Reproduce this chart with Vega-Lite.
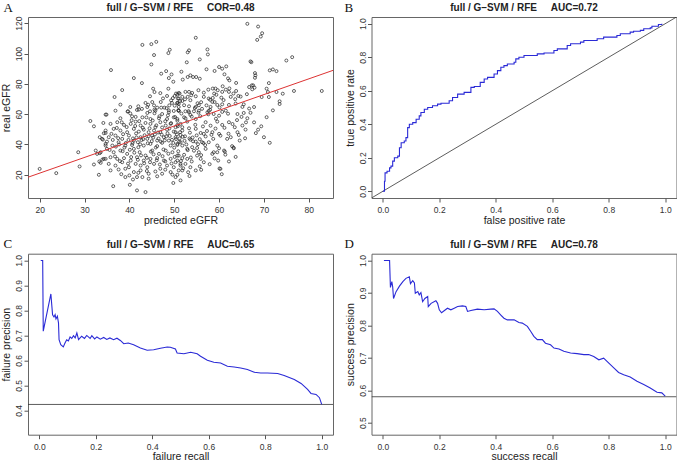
{
"$schema": "https://vega.github.io/schema/vega-lite/v6.json",
"padding": {"left": 1, "top": 1, "right": 0, "bottom": 0},
"background": "white",
"config": {
  "view": {"stroke": "#666", "strokeWidth": 1},
  "axis": {"grid": false, "domain": false, "tickColor": "#555", "tickSize": 4, "tickCount": 20, "labelFont": "Liberation Sans", "labelFontSize": 8.5, "labelColor": "#333", "labelFlush": false, "labelOverlap": false, "titleFont": "Liberation Sans", "titleFontSize": 10.5, "titleFontWeight": "normal", "titleColor": "#222"},
  "axisY": {"labelAngle": 270, "labelAlign": "center", "labelBaseline": "alphabetic", "labelPadding": 2.5, "titleAngle": 270, "titleX": -21.3, "titleBaseline": "middle", "titleAlign": "center"},
  "axisX": {"labelPadding": 3.5, "labelBaseline": "top", "titleY": 25, "titleBaseline": "alphabetic"},
  "title": {"font": "Liberation Sans", "fontSize": 10, "fontWeight": "bold", "color": "#222", "offset": 6.5, "dy": 17.8, "baseline": "alphabetic", "anchor": "middle", "frame": "group"}
},
"datasets": {
  "scatter": [
{"p":42.9,"r":105.7},{"p":44.9,"r":106.2},{"p":46.0,"r":107.7},{"p":49.0,"r":102.5},{"p":48.7,"r":100.3},{"p":45.5,"r":99.0},{"p":35.9,"r":89.1},{"p":44.9,"r":92.8},{"p":41.0,"r":83.8},{"p":42.8,"r":80.5},{"p":47.1,"r":86.7},{"p":48.2,"r":88.4},{"p":49.4,"r":86.2},{"p":48.8,"r":83.8},{"p":49.8,"r":81.4},{"p":38.4,"r":75.9},{"p":45.3,"r":76.8},{"p":45.6,"r":74.6},{"p":46.9,"r":73.9},{"p":48.7,"r":76.8},{"p":36.7,"r":71.3},{"p":44.6,"r":71.8},{"p":47.5,"r":70.4},{"p":48.4,"r":72.0},{"p":50.1,"r":72.0},{"p":50.7,"r":73.0},{"p":51.0,"r":74.0},{"p":50.8,"r":70.4},{"p":49.3,"r":69.1},{"p":38.0,"r":66.3},{"p":40.2,"r":64.7},{"p":42.0,"r":65.2},{"p":43.6,"r":67.4},{"p":44.0,"r":64.7},{"p":45.1,"r":68.0},{"p":45.5,"r":65.8},{"p":46.2,"r":64.3},{"p":47.1,"r":64.3},{"p":47.8,"r":64.3},{"p":48.9,"r":65.8},{"p":49.5,"r":67.4},{"p":50.1,"r":65.6},{"p":50.7,"r":67.4},{"p":51.3,"r":68.7},{"p":39.7,"r":61.9},{"p":42.1,"r":63.0},{"p":44.6,"r":61.9},{"p":45.6,"r":63.0},{"p":48.8,"r":62.5},{"p":49.9,"r":62.1},{"p":50.9,"r":62.5},
{"p":66.3,"r":119.6},{"p":54.8,"r":110.4},{"p":53.3,"r":102.1},{"p":53.0,"r":100.8},{"p":57.4,"r":102.7},{"p":57.5,"r":99.4},{"p":55.7,"r":96.1},{"p":52.8,"r":94.2},{"p":67.0,"r":94.8},{"p":57.2,"r":89.6},{"p":59.0,"r":88.5},{"p":60.0,"r":91.1},{"p":60.7,"r":90.0},{"p":61.6,"r":91.5},{"p":51.6,"r":88.0},{"p":53.6,"r":85.6},{"p":53.0,"r":84.5},{"p":54.2,"r":84.5},{"p":54.9,"r":84.5},{"p":55.7,"r":83.4},{"p":51.9,"r":82.8},{"p":61.2,"r":86.3},{"p":62.0,"r":83.6},{"p":62.3,"r":82.3},{"p":63.8,"r":80.6},{"p":58.6,"r":76.9},{"p":59.2,"r":76.9},{"p":59.7,"r":75.8},{"p":57.6,"r":76.2},{"p":55.4,"r":75.8},{"p":50.4,"r":73.6},{"p":51.2,"r":73.6},{"p":52.5,"r":74.7},{"p":53.3,"r":74.7},{"p":54.0,"r":74.0},{"p":51.8,"r":71.4},{"p":53.0,"r":71.4},{"p":51.0,"r":70.3},{"p":54.8,"r":71.8},{"p":56.6,"r":71.4},{"p":58.9,"r":73.6},{"p":60.7,"r":74.7},{"p":61.5,"r":76.2},{"p":62.2,"r":74.7},{"p":63.2,"r":73.6},{"p":63.8,"r":75.3},{"p":64.3,"r":72.0},{"p":62.6,"r":71.4},{"p":60.5,"r":70.9},{"p":58.6,"r":70.7},{"p":57.7,"r":70.3},{"p":53.6,"r":69.2},{"p":51.8,"r":68.7},{"p":50.7,"r":67.4},{"p":56.0,"r":67.9},{"p":58.5,"r":68.1},{"p":55.5,"r":65.9},{"p":54.8,"r":64.8},{"p":53.3,"r":65.2},{"p":52.2,"r":65.9},{"p":51.0,"r":64.8},{"p":58.1,"r":64.8},{"p":59.6,"r":66.1},{"p":60.7,"r":66.5},{"p":62.2,"r":66.1},{"p":63.7,"r":67.0},{"p":65.5,"r":66.5},{"p":66.7,"r":63.7},{"p":52.5,"r":61.9},{"p":54.4,"r":61.9},{"p":57.7,"r":62.2},{"p":60.7,"r":61.5},{"p":65.2,"r":64.8},{"p":66.7,"r":77.9},{"p":67.6,"r":79.0},
{"p":68.7,"r":117.8},{"p":69.6,"r":113.4},{"p":69.3,"r":111.2},{"p":68.5,"r":109.0},{"p":76.3,"r":97.6},{"p":75.0,"r":95.4},{"p":67.2,"r":94.3},{"p":68.0,"r":87.1},{"p":68.1,"r":85.6},{"p":68.0,"r":84.0},{"p":71.3,"r":88.9},{"p":72.0,"r":89.5},{"p":72.8,"r":88.4},{"p":71.1,"r":80.5},{"p":67.3,"r":79.0},{"p":67.9,"r":77.5},{"p":67.4,"r":76.4},{"p":70.6,"r":76.8},{"p":70.9,"r":74.6},{"p":72.8,"r":74.6},{"p":74.2,"r":73.5},{"p":76.7,"r":75.3},{"p":82.9,"r":75.3},{"p":69.5,"r":71.3},{"p":71.1,"r":71.3},{"p":73.5,"r":68.5},{"p":67.8,"r":64.7},
{"p":34.7,"r":59.7},{"p":31.3,"r":55.5},{"p":32.1,"r":52.0},{"p":34.3,"r":47.4},{"p":34.7,"r":47.6},{"p":33.4,"r":44.8},{"p":34.1,"r":43.2},{"p":34.7,"r":39.3},{"p":28.6,"r":34.9},{"p":32.5,"r":36.0},{"p":32.8,"r":33.8},{"p":33.4,"r":34.3},{"p":34.0,"r":30.1},{"p":34.7,"r":30.5},{"p":33.3,"r":28.8},{"p":33.6,"r":27.9},{"p":28.9,"r":25.5},{"p":32.1,"r":26.8},{"p":20.0,"r":23.9},{"p":23.7,"r":21.1},{"p":33.2,"r":20.0},
{"p":34.9,"r":59.7},{"p":36.9,"r":62.3},{"p":39.6,"r":61.7},{"p":41.7,"r":62.8},{"p":44.0,"r":60.8},{"p":45.8,"r":62.3},{"p":47.3,"r":60.1},{"p":48.8,"r":61.2},{"p":49.9,"r":57.9},{"p":51.0,"r":62.3},{"p":38.0,"r":57.3},{"p":40.6,"r":58.6},{"p":42.9,"r":57.9},{"p":44.7,"r":56.8},{"p":46.6,"r":57.3},{"p":48.4,"r":56.8},{"p":50.7,"r":55.7},{"p":34.2,"r":54.2},{"p":35.8,"r":53.6},{"p":37.3,"r":54.7},{"p":38.8,"r":52.9},{"p":40.3,"r":53.6},{"p":41.4,"r":55.1},{"p":42.5,"r":52.5},{"p":43.6,"r":54.2},{"p":44.7,"r":53.6},{"p":45.8,"r":51.4},{"p":46.9,"r":54.7},{"p":48.1,"r":52.5},{"p":49.2,"r":53.6},{"p":50.3,"r":51.4},{"p":51.4,"r":53.6},{"p":34.7,"r":49.2},{"p":36.5,"r":50.3},{"p":38.0,"r":49.2},{"p":39.5,"r":48.1},{"p":41.0,"r":50.3},{"p":42.1,"r":48.5},{"p":43.2,"r":49.8},{"p":44.3,"r":48.1},{"p":45.5,"r":49.2},{"p":46.9,"r":48.1},{"p":48.4,"r":49.8},{"p":49.9,"r":48.5},{"p":51.3,"r":48.1},{"p":33.9,"r":43.7},{"p":35.4,"r":44.8},{"p":36.9,"r":45.9},{"p":38.4,"r":43.7},{"p":39.9,"r":45.9},{"p":41.0,"r":42.6},{"p":42.5,"r":44.8},{"p":44.0,"r":43.7},{"p":45.1,"r":45.9},{"p":46.2,"r":42.6},{"p":47.7,"r":44.8},{"p":48.8,"r":42.6},{"p":50.3,"r":44.8},{"p":51.4,"r":41.5},{"p":34.7,"r":40.4},{"p":36.2,"r":39.3},{"p":37.6,"r":41.5},{"p":39.1,"r":39.3},{"p":40.6,"r":39.7},{"p":41.9,"r":41.5},{"p":43.2,"r":39.3},{"p":44.7,"r":40.4},{"p":46.2,"r":38.9},{"p":47.3,"r":41.1},{"p":49.2,"r":39.3},{"p":50.7,"r":39.7},{"p":33.6,"r":34.9},{"p":35.0,"r":37.1},{"p":36.5,"r":34.9},{"p":38.0,"r":36.0},{"p":39.5,"r":33.8},{"p":41.0,"r":37.1},{"p":42.3,"r":34.9},{"p":43.6,"r":32.7},{"p":45.1,"r":36.0},{"p":46.6,"r":33.8},{"p":48.1,"r":36.0},{"p":49.6,"r":34.9},{"p":51.0,"r":32.7},{"p":34.3,"r":30.5},{"p":35.8,"r":31.6},{"p":37.3,"r":30.5},{"p":38.8,"r":31.0},{"p":40.3,"r":29.4},{"p":41.7,"r":31.6},{"p":43.2,"r":29.4},{"p":44.7,"r":30.5},{"p":46.2,"r":31.0},{"p":47.7,"r":29.4},{"p":49.2,"r":30.5},{"p":50.7,"r":29.4},{"p":35.4,"r":27.2},{"p":36.9,"r":26.1},{"p":38.4,"r":28.3},{"p":39.9,"r":25.0},{"p":41.4,"r":27.2},{"p":42.5,"r":26.1},{"p":44.0,"r":25.0},{"p":45.5,"r":27.2},{"p":46.9,"r":24.0},{"p":48.4,"r":26.1},{"p":49.9,"r":25.0},{"p":51.4,"r":27.2},{"p":35.8,"r":22.9},{"p":37.6,"r":23.5},{"p":39.1,"r":24.0},{"p":41.0,"r":21.8},{"p":42.5,"r":22.9},{"p":44.3,"r":20.7},{"p":45.8,"r":22.2},{"p":47.3,"r":20.7},{"p":49.2,"r":21.8},{"p":51.0,"r":22.9},{"p":39.1,"r":18.5},{"p":40.8,"r":16.9},{"p":41.7,"r":18.5},{"p":42.9,"r":18.5},{"p":44.3,"r":17.4},{"p":50.3,"r":18.5},{"p":51.4,"r":16.3},{"p":36.4,"r":12.5},{"p":40.1,"r":13.4},{"p":41.7,"r":9.7},{"p":43.6,"r":8.6},{"p":49.8,"r":14.6},
{"p":51.0,"r":62.3},{"p":53.3,"r":61.2},{"p":53.6,"r":59.5},{"p":55.5,"r":62.3},{"p":57.4,"r":61.2},{"p":58.8,"r":60.1},{"p":60.0,"r":59.0},{"p":61.5,"r":62.3},{"p":64.1,"r":60.1},{"p":65.5,"r":60.8},{"p":66.3,"r":57.3},{"p":50.7,"r":56.8},{"p":52.2,"r":57.9},{"p":54.8,"r":56.8},{"p":57.0,"r":54.7},{"p":59.6,"r":55.1},{"p":60.7,"r":52.9},{"p":62.2,"r":54.7},{"p":63.5,"r":51.4},{"p":65.2,"r":52.5},{"p":65.9,"r":49.8},{"p":50.7,"r":52.9},{"p":51.8,"r":51.4},{"p":53.3,"r":50.7},{"p":54.8,"r":50.3},{"p":55.9,"r":47.6},{"p":56.6,"r":47.0},{"p":58.5,"r":48.1},{"p":60.0,"r":47.0},{"p":61.8,"r":43.7},{"p":62.6,"r":44.8},{"p":64.1,"r":48.1},{"p":64.4,"r":46.3},{"p":50.3,"r":48.1},{"p":51.4,"r":46.3},{"p":52.4,"r":45.4},{"p":53.6,"r":43.2},{"p":54.8,"r":41.9},{"p":56.2,"r":41.5},{"p":57.7,"r":41.5},{"p":59.6,"r":39.3},{"p":60.0,"r":37.5},{"p":61.1,"r":36.0},{"p":62.9,"r":38.9},{"p":63.3,"r":37.5},{"p":50.7,"r":40.4},{"p":51.8,"r":39.3},{"p":52.9,"r":37.1},{"p":54.0,"r":38.2},{"p":55.5,"r":34.9},{"p":57.0,"r":37.1},{"p":58.5,"r":33.8},{"p":59.6,"r":34.9},{"p":61.3,"r":35.3},{"p":50.7,"r":32.7},{"p":51.8,"r":31.0},{"p":52.9,"r":30.5},{"p":53.9,"r":28.8},{"p":55.1,"r":32.7},{"p":55.9,"r":30.5},{"p":56.6,"r":28.3},{"p":58.8,"r":34.9},{"p":59.8,"r":29.4},{"p":62.2,"r":28.8},{"p":63.7,"r":31.8},{"p":50.3,"r":28.3},{"p":51.4,"r":26.1},{"p":52.5,"r":27.2},{"p":53.6,"r":25.0},{"p":54.8,"r":22.9},{"p":51.8,"r":22.9},{"p":53.1,"r":21.7},{"p":56.0,"r":23.3},{"p":60.3,"r":23.9},{"p":50.7,"r":20.0},{"p":60.6,"r":20.4},{"p":60.1,"r":24.2},
{"p":67.8,"r":54.6},{"p":68.7,"r":49.8},{"p":70.0,"r":44.8},{"p":71.3,"r":41.1},
{"p":37.5,"r":44.2},{"p":38.6,"r":46.8},{"p":39.2,"r":41.0},{"p":40.1,"r":36.5},{"p":40.8,"r":44.0},{"p":41.5,"r":47.3},{"p":42.0,"r":38.2},{"p":42.7,"r":42.9},{"p":43.4,"r":46.1},{"p":44.1,"r":40.8},{"p":44.8,"r":35.3},{"p":45.3,"r":44.5},{"p":45.9,"r":38.0},{"p":46.4,"r":47.9},{"p":47.0,"r":41.9},{"p":47.6,"r":36.7},{"p":48.2,"r":45.3},{"p":48.9,"r":50.6},{"p":49.5,"r":43.1},{"p":50.0,"r":37.9},{"p":50.6,"r":46.7},{"p":51.2,"r":44.0},{"p":51.8,"r":49.2},{"p":52.3,"r":42.4},{"p":52.9,"r":55.1},{"p":53.5,"r":47.8},{"p":54.1,"r":44.6},{"p":54.7,"r":53.0},{"p":55.3,"r":40.2},{"p":55.8,"r":58.7},{"p":56.4,"r":51.9},{"p":57.0,"r":45.3},{"p":57.6,"r":59.9},{"p":58.1,"r":52.4},{"p":58.7,"r":43.7},{"p":59.3,"r":57.0},
{"p":36.8,"r":32.1},{"p":37.9,"r":29.0},{"p":38.5,"r":35.6},{"p":39.7,"r":27.4},{"p":40.4,"r":31.7},{"p":41.1,"r":34.6},{"p":41.9,"r":29.9},{"p":42.6,"r":32.8},{"p":43.3,"r":27.6},{"p":43.9,"r":31.2},{"p":44.6,"r":28.3},{"p":45.4,"r":33.5},{"p":46.1,"r":29.6},{"p":46.8,"r":26.8},{"p":47.4,"r":32.3},{"p":48.0,"r":28.9},{"p":48.7,"r":33.9},{"p":49.4,"r":27.5},{"p":50.1,"r":31.8},{"p":50.9,"r":35.5},{"p":51.5,"r":29.1},{"p":52.2,"r":33.2},{"p":53.0,"r":36.3},{"p":53.7,"r":31.4},{"p":54.4,"r":35.9},{"p":55.1,"r":37.7},{"p":56.0,"r":33.0},{"p":56.9,"r":39.6},
{"p":36.0,"r":47.0},{"p":37.2,"r":50.9},{"p":38.3,"r":54.6},{"p":39.4,"r":51.5},{"p":40.5,"r":56.0},{"p":41.3,"r":52.2},{"p":42.2,"r":55.4},{"p":43.0,"r":51.0},{"p":43.8,"r":57.9},{"p":44.5,"r":50.7},{"p":45.2,"r":55.8},{"p":46.0,"r":52.6},{"p":46.7,"r":58.6},{"p":47.3,"r":51.2},{"p":48.0,"r":55.3},{"p":48.6,"r":59.2},{"p":49.3,"r":54.1},{"p":50.2,"r":58.1},{"p":50.8,"r":52.0},{"p":51.6,"r":60.4},{"p":52.5,"r":57.3},{"p":53.2,"r":62.0},{"p":53.9,"r":58.4},{"p":54.6,"r":64.1},{"p":55.4,"r":61.0},{"p":56.2,"r":63.5},{"p":57.2,"r":65.8},{"p":58.0,"r":62.9},{"p":59.0,"r":68.0},{"p":60.1,"r":64.4},{"p":61.0,"r":69.3},{"p":62.0,"r":60.3},
{"p":35.0,"r":41.9},{"p":35.6,"r":36.4},{"p":36.3,"r":43.0},{"p":37.0,"r":38.6},{"p":37.7,"r":40.0},{"p":38.9,"r":38.0},{"p":39.8,"r":43.0},{"p":40.7,"r":40.9},{"p":41.6,"r":44.6},{"p":42.4,"r":40.1},{"p":43.1,"r":43.5},{"p":44.3,"r":45.5},{"p":45.0,"r":42.2},{"p":45.7,"r":46.6},{"p":46.5,"r":43.9},{"p":47.2,"r":46.5},{"p":47.9,"r":42.7},{"p":48.5,"r":47.4},{"p":49.0,"r":45.6},{"p":49.8,"r":41.0},{"p":50.4,"r":43.6},{"p":51.1,"r":41.8},{"p":51.9,"r":45.1},{"p":52.7,"r":40.0},{"p":53.4,"r":44.0},{"p":54.2,"r":42.1},{"p":55.0,"r":46.0},{"p":55.7,"r":43.5},{"p":56.5,"r":41.0},{"p":57.3,"r":48.9},{"p":58.3,"r":46.4},{"p":59.2,"r":50.5},{"p":60.3,"r":45.8},{"p":61.2,"r":51.0},{"p":62.1,"r":47.1},{"p":63.0,"r":53.5},{"p":64.0,"r":56.1},{"p":65.0,"r":58.2},{"p":66.0,"r":54.6},{"p":67.0,"r":60.9},
{"p":40.2,"r":60.5},{"p":41.4,"r":58.2},{"p":42.8,"r":63.5},{"p":44.2,"r":66.2},{"p":45.6,"r":60.6},{"p":47.0,"r":68.0},{"p":48.3,"r":64.0},{"p":49.7,"r":70.6},{"p":51.0,"r":66.8},{"p":52.4,"r":69.8},{"p":53.8,"r":72.5},{"p":55.2,"r":67.2},{"p":56.6,"r":74.2},{"p":58.0,"r":69.5},{"p":59.4,"r":72.8},{"p":60.8,"r":78.4},{"p":62.3,"r":77.0},{"p":63.6,"r":69.9},{"p":64.8,"r":71.6},{"p":66.2,"r":73.2},
{"p":38.2,"r":20.4},{"p":40.0,"r":19.6},{"p":42.0,"r":21.3},{"p":43.9,"r":22.5},{"p":46.2,"r":19.0},{"p":48.0,"r":23.4},{"p":49.6,"r":20.1},{"p":52.0,"r":24.3},{"p":53.4,"r":19.2},{"p":55.7,"r":25.6},{"p":57.9,"r":27.0},{"p":59.0,"r":30.8},{"p":61.4,"r":33.3},{"p":63.2,"r":38.0},{"p":64.6,"r":42.6},{"p":65.8,"r":44.1},{"p":68.2,"r":47.5},{"p":69.4,"r":52.0},{"p":70.6,"r":58.0},{"p":72.0,"r":62.5},{"p":73.5,"r":66.7}
  ],
  "fitA": [{"p":17.4,"r":18.4},{"p":85.4,"r":88.9}],
  "roc": [
{"fpr":0,"tpr":0},{"fpr":0.006,"tpr":0.06},{"fpr":0.008,"tpr":0.11},{"fpr":0.015,"tpr":0.12},{"fpr":0.024,"tpr":0.14},{"fpr":0.029,"tpr":0.15},{"fpr":0.035,"tpr":0.18},{"fpr":0.041,"tpr":0.2},{"fpr":0.053,"tpr":0.21},{"fpr":0.059,"tpr":0.26},{"fpr":0.065,"tpr":0.29},{"fpr":0.076,"tpr":0.3},{"fpr":0.082,"tpr":0.32},{"fpr":0.088,"tpr":0.38},{"fpr":0.094,"tpr":0.4},{"fpr":0.106,"tpr":0.41},{"fpr":0.118,"tpr":0.43},{"fpr":0.129,"tpr":0.45},{"fpr":0.135,"tpr":0.47},{"fpr":0.147,"tpr":0.49},{"fpr":0.159,"tpr":0.5},{"fpr":0.176,"tpr":0.51},{"fpr":0.194,"tpr":0.52},{"fpr":0.206,"tpr":0.525},{"fpr":0.235,"tpr":0.54},{"fpr":0.247,"tpr":0.56},{"fpr":0.265,"tpr":0.58},{"fpr":0.288,"tpr":0.59},{"fpr":0.312,"tpr":0.62},{"fpr":0.324,"tpr":0.625},{"fpr":0.345,"tpr":0.65},{"fpr":0.359,"tpr":0.67},{"fpr":0.371,"tpr":0.68},{"fpr":0.394,"tpr":0.7},{"fpr":0.406,"tpr":0.72},{"fpr":0.418,"tpr":0.74},{"fpr":0.429,"tpr":0.75},{"fpr":0.441,"tpr":0.76},{"fpr":0.465,"tpr":0.77},{"fpr":0.471,"tpr":0.79},{"fpr":0.482,"tpr":0.8},{"fpr":0.5,"tpr":0.81},{"fpr":0.547,"tpr":0.82},{"fpr":0.571,"tpr":0.825},{"fpr":0.606,"tpr":0.84},{"fpr":0.618,"tpr":0.85},{"fpr":0.653,"tpr":0.87},{"fpr":0.665,"tpr":0.88},{"fpr":0.7,"tpr":0.89},{"fpr":0.712,"tpr":0.9},{"fpr":0.759,"tpr":0.91},{"fpr":0.782,"tpr":0.92},{"fpr":0.829,"tpr":0.93},{"fpr":0.841,"tpr":0.94},{"fpr":0.876,"tpr":0.95},{"fpr":0.888,"tpr":0.955},{"fpr":0.912,"tpr":0.96},{"fpr":0.924,"tpr":0.97},{"fpr":0.947,"tpr":0.975},{"fpr":0.953,"tpr":0.985},{"fpr":0.976,"tpr":0.995},{"fpr":0.988,"tpr":1.0}
  ],
  "diag": [{"fpr":-0.04,"tpr":-0.04},{"fpr":1.04,"tpr":1.04}],
  "prf": [
{"rc":0.005,"pc":1.0},{"rc":0.012,"pc":1.0},{"rc":0.014,"pc":0.717},{"rc":0.041,"pc":0.866},{"rc":0.047,"pc":0.783},{"rc":0.052,"pc":0.774},{"rc":0.056,"pc":0.783},{"rc":0.059,"pc":0.766},{"rc":0.064,"pc":0.777},{"rc":0.068,"pc":0.75},{"rc":0.07,"pc":0.683},{"rc":0.076,"pc":0.663},{"rc":0.085,"pc":0.654},{"rc":0.091,"pc":0.67},{"rc":0.097,"pc":0.683},{"rc":0.103,"pc":0.678},{"rc":0.109,"pc":0.694},{"rc":0.115,"pc":0.688},{"rc":0.121,"pc":0.699},{"rc":0.127,"pc":0.69},{"rc":0.133,"pc":0.71},{"rc":0.139,"pc":0.683},{"rc":0.15,"pc":0.697},{"rc":0.16,"pc":0.688},{"rc":0.168,"pc":0.7},{"rc":0.18,"pc":0.688},{"rc":0.186,"pc":0.699},{"rc":0.196,"pc":0.686},{"rc":0.204,"pc":0.694},{"rc":0.216,"pc":0.685},{"rc":0.228,"pc":0.692},{"rc":0.239,"pc":0.684},{"rc":0.25,"pc":0.69},{"rc":0.263,"pc":0.683},{"rc":0.275,"pc":0.689},{"rc":0.287,"pc":0.68},{"rc":0.299,"pc":0.667},{"rc":0.315,"pc":0.67},{"rc":0.334,"pc":0.663},{"rc":0.358,"pc":0.65},{"rc":0.382,"pc":0.641},{"rc":0.405,"pc":0.643},{"rc":0.429,"pc":0.649},{"rc":0.453,"pc":0.654},{"rc":0.464,"pc":0.653},{"rc":0.482,"pc":0.646},{"rc":0.488,"pc":0.63},{"rc":0.512,"pc":0.627},{"rc":0.536,"pc":0.633},{"rc":0.559,"pc":0.627},{"rc":0.571,"pc":0.617},{"rc":0.595,"pc":0.601},{"rc":0.618,"pc":0.593},{"rc":0.642,"pc":0.59},{"rc":0.666,"pc":0.577},{"rc":0.69,"pc":0.574},{"rc":0.713,"pc":0.57},{"rc":0.737,"pc":0.564},{"rc":0.761,"pc":0.553},{"rc":0.784,"pc":0.55},{"rc":0.808,"pc":0.55},{"rc":0.844,"pc":0.548},{"rc":0.867,"pc":0.54},{"rc":0.903,"pc":0.524},{"rc":0.927,"pc":0.508},{"rc":0.95,"pc":0.484},{"rc":0.962,"pc":0.468},{"rc":0.98,"pc":0.464},{"rc":0.992,"pc":0.451},{"rc":1.0,"pc":0.424}
  ],
  "prfBase": [{"rc":-0.04,"pc":0.424},{"rc":1.04,"pc":0.424}],
  "prs": [
{"rs":0.004,"ps":1.0},{"rs":0.024,"ps":1.0},{"rs":0.027,"ps":0.917},{"rs":0.032,"ps":0.935},{"rs":0.035,"ps":0.919},{"rs":0.038,"ps":0.883},{"rs":0.047,"ps":0.904},{"rs":0.059,"ps":0.921},{"rs":0.071,"ps":0.935},{"rs":0.082,"ps":0.945},{"rs":0.094,"ps":0.95},{"rs":0.098,"ps":0.929},{"rs":0.106,"ps":0.938},{"rs":0.112,"ps":0.931},{"rs":0.115,"ps":0.899},{"rs":0.124,"ps":0.904},{"rs":0.129,"ps":0.894},{"rs":0.135,"ps":0.901},{"rs":0.141,"ps":0.873},{"rs":0.149,"ps":0.883},{"rs":0.159,"ps":0.889},{"rs":0.161,"ps":0.858},{"rs":0.171,"ps":0.868},{"rs":0.188,"ps":0.876},{"rs":0.194,"ps":0.868},{"rs":0.2,"ps":0.848},{"rs":0.208,"ps":0.839},{"rs":0.229,"ps":0.853},{"rs":0.241,"ps":0.848},{"rs":0.253,"ps":0.853},{"rs":0.265,"ps":0.858},{"rs":0.282,"ps":0.86},{"rs":0.294,"ps":0.858},{"rs":0.3,"ps":0.843},{"rs":0.312,"ps":0.846},{"rs":0.335,"ps":0.85},{"rs":0.359,"ps":0.848},{"rs":0.382,"ps":0.85},{"rs":0.394,"ps":0.851},{"rs":0.406,"ps":0.843},{"rs":0.418,"ps":0.832},{"rs":0.429,"ps":0.822},{"rs":0.441,"ps":0.817},{"rs":0.465,"ps":0.817},{"rs":0.482,"ps":0.809},{"rs":0.494,"ps":0.807},{"rs":0.512,"ps":0.797},{"rs":0.524,"ps":0.781},{"rs":0.535,"ps":0.766},{"rs":0.547,"ps":0.756},{"rs":0.565,"ps":0.756},{"rs":0.576,"ps":0.745},{"rs":0.594,"ps":0.74},{"rs":0.606,"ps":0.73},{"rs":0.624,"ps":0.727},{"rs":0.641,"ps":0.72},{"rs":0.665,"ps":0.715},{"rs":0.688,"ps":0.713},{"rs":0.712,"ps":0.71},{"rs":0.729,"ps":0.71},{"rs":0.747,"ps":0.704},{"rs":0.765,"ps":0.694},{"rs":0.782,"ps":0.699},{"rs":0.794,"ps":0.689},{"rs":0.818,"ps":0.669},{"rs":0.835,"ps":0.655},{"rs":0.853,"ps":0.648},{"rs":0.876,"ps":0.641},{"rs":0.9,"ps":0.628},{"rs":0.924,"ps":0.618},{"rs":0.947,"ps":0.607},{"rs":0.971,"ps":0.594},{"rs":0.988,"ps":0.592},{"rs":1.0,"ps":0.582}
  ],
  "prsBase": [{"rs":-0.04,"ps":0.58},{"rs":1.04,"ps":0.58}]
},
"resolve": {"scale": {"x": "independent", "y": "independent"}},
"bounds": "flush",
"columns": 2,
"spacing": {"row": 55.7, "column": 38.5},
"concat": [
  {"width": 305, "height": 181,
   "title": {"text": "full / G\u2013SVM / RFE\u00a0\u00a0\u00a0\u00a0\u00a0COR=0.48"},
   "layer": [
    {"data": {"name": "scatter"}, "mark": {"type": "point", "filled": false, "size": 9, "strokeWidth": 0.7, "color": "#222", "opacity": 1},
     "encoding": {
      "x": {"field": "p", "type": "quantitative", "scale": {"domain": [17.4, 85.4], "nice": false, "zero": false}, "axis": {"title": "predicted eGFR", "values": [20,30,40,50,60,70,80], "tickCount": 20}},
      "y": {"field": "r", "type": "quantitative", "scale": {"domain": [4.7, 124.1], "nice": false, "zero": false}, "axis": {"title": "real eGFR", "values": [20,40,60,80,100,120], "tickCount": 20}}}},
    {"data": {"name": "fitA"}, "mark": {"type": "line", "color": "#dd3333", "strokeWidth": 1, "clip": true},
     "encoding": {"x": {"field": "p", "type": "quantitative"}, "y": {"field": "r", "type": "quantitative"}}},
    {"data": {"values": [{"t": "A"}]}, "mark": {"type": "text", "font": "Liberation Serif", "fontSize": 13, "align": "left", "baseline": "alphabetic", "dx": -24.5, "dy": -5.5, "color": "#111"},
     "encoding": {"text": {"field": "t"}, "x": {"datum": 17.4, "type": "quantitative"}, "y": {"datum": 124.1, "type": "quantitative"}}}
   ]},
  {"width": 305, "height": 181,
   "title": {"text": "full / G\u2013SVM / RFE\u00a0\u00a0\u00a0\u00a0\u00a0AUC=0.72"},
   "layer": [
    {"data": {"name": "diag"}, "mark": {"type": "line", "color": "#333", "strokeWidth": 0.8, "clip": true},
     "encoding": {
      "x": {"field": "fpr", "type": "quantitative", "scale": {"domain": [-0.04, 1.04], "nice": false, "zero": false}, "axis": {"title": "false positive rate", "values": [0,0.2,0.4,0.6,0.8,1], "format": ".1f", "tickCount": 20}},
      "y": {"field": "tpr", "type": "quantitative", "scale": {"domain": [-0.04, 1.04], "nice": false, "zero": false}, "axis": {"title": "true positive rate", "values": [0,0.2,0.4,0.6,0.8,1], "format": ".1f", "tickCount": 20}}}},
    {"data": {"name": "roc"}, "mark": {"type": "line", "color": "#2a2ad6", "strokeWidth": 1.1, "interpolate": "step-after"},
     "encoding": {"x": {"field": "fpr", "type": "quantitative"}, "y": {"field": "tpr", "type": "quantitative"}}},
    {"data": {"values": [{"t": "B"}]}, "mark": {"type": "text", "font": "Liberation Serif", "fontSize": 13, "align": "left", "baseline": "alphabetic", "dx": -27, "dy": -5.5, "color": "#111"},
     "encoding": {"text": {"field": "t"}, "x": {"datum": -0.04, "type": "quantitative"}, "y": {"datum": 1.04, "type": "quantitative"}}}
   ]},
  {"width": 305, "height": 181,
   "title": {"text": "full / G\u2013SVM / RFE\u00a0\u00a0\u00a0\u00a0\u00a0AUC=0.65"},
   "layer": [
    {"data": {"name": "prfBase"}, "mark": {"type": "line", "color": "#333", "strokeWidth": 0.8, "clip": true},
     "encoding": {
      "x": {"field": "rc", "type": "quantitative", "scale": {"domain": [-0.04, 1.04], "nice": false, "zero": false}, "axis": {"title": "failure recall", "values": [0,0.2,0.4,0.6,0.8,1], "format": ".1f", "tickCount": 20}},
      "y": {"field": "pc", "type": "quantitative", "scale": {"domain": [0.303, 1.027], "nice": false, "zero": false}, "axis": {"title": "failure precision", "values": [0.4,0.5,0.6,0.7,0.8,0.9,1], "format": ".1f", "tickCount": 20}}}},
    {"data": {"name": "prf"}, "mark": {"type": "line", "color": "#2a2ad6", "strokeWidth": 1.1},
     "encoding": {"x": {"field": "rc", "type": "quantitative"}, "y": {"field": "pc", "type": "quantitative"}}},
    {"data": {"values": [{"t": "C"}]}, "mark": {"type": "text", "font": "Liberation Serif", "fontSize": 13, "align": "left", "baseline": "alphabetic", "dx": -24.5, "dy": -5.5, "color": "#111"},
     "encoding": {"text": {"field": "t"}, "x": {"datum": -0.04, "type": "quantitative"}, "y": {"datum": 1.027, "type": "quantitative"}}}
   ]},
  {"width": 305, "height": 181,
   "title": {"text": "full / G\u2013SVM / RFE\u00a0\u00a0\u00a0\u00a0\u00a0AUC=0.78"},
   "layer": [
    {"data": {"name": "prsBase"}, "mark": {"type": "line", "color": "#333", "strokeWidth": 0.8, "clip": true},
     "encoding": {
      "x": {"field": "rs", "type": "quantitative", "scale": {"domain": [-0.04, 1.04], "nice": false, "zero": false}, "axis": {"title": "success recall", "values": [0,0.2,0.4,0.6,0.8,1], "format": ".1f", "tickCount": 20}},
      "y": {"field": "ps", "type": "quantitative", "scale": {"domain": [0.463, 1.021], "nice": false, "zero": false}, "axis": {"title": "success precision", "values": [0.5,0.6,0.7,0.8,0.9,1], "format": ".1f", "tickCount": 20}}}},
    {"data": {"name": "prs"}, "mark": {"type": "line", "color": "#2a2ad6", "strokeWidth": 1.1},
     "encoding": {"x": {"field": "rs", "type": "quantitative"}, "y": {"field": "ps", "type": "quantitative"}}},
    {"data": {"values": [{"t": "D"}]}, "mark": {"type": "text", "font": "Liberation Serif", "fontSize": 13, "align": "left", "baseline": "alphabetic", "dx": -27, "dy": -5.5, "color": "#111"},
     "encoding": {"text": {"field": "t"}, "x": {"datum": -0.04, "type": "quantitative"}, "y": {"datum": 1.021, "type": "quantitative"}}}
   ]}
]
}
